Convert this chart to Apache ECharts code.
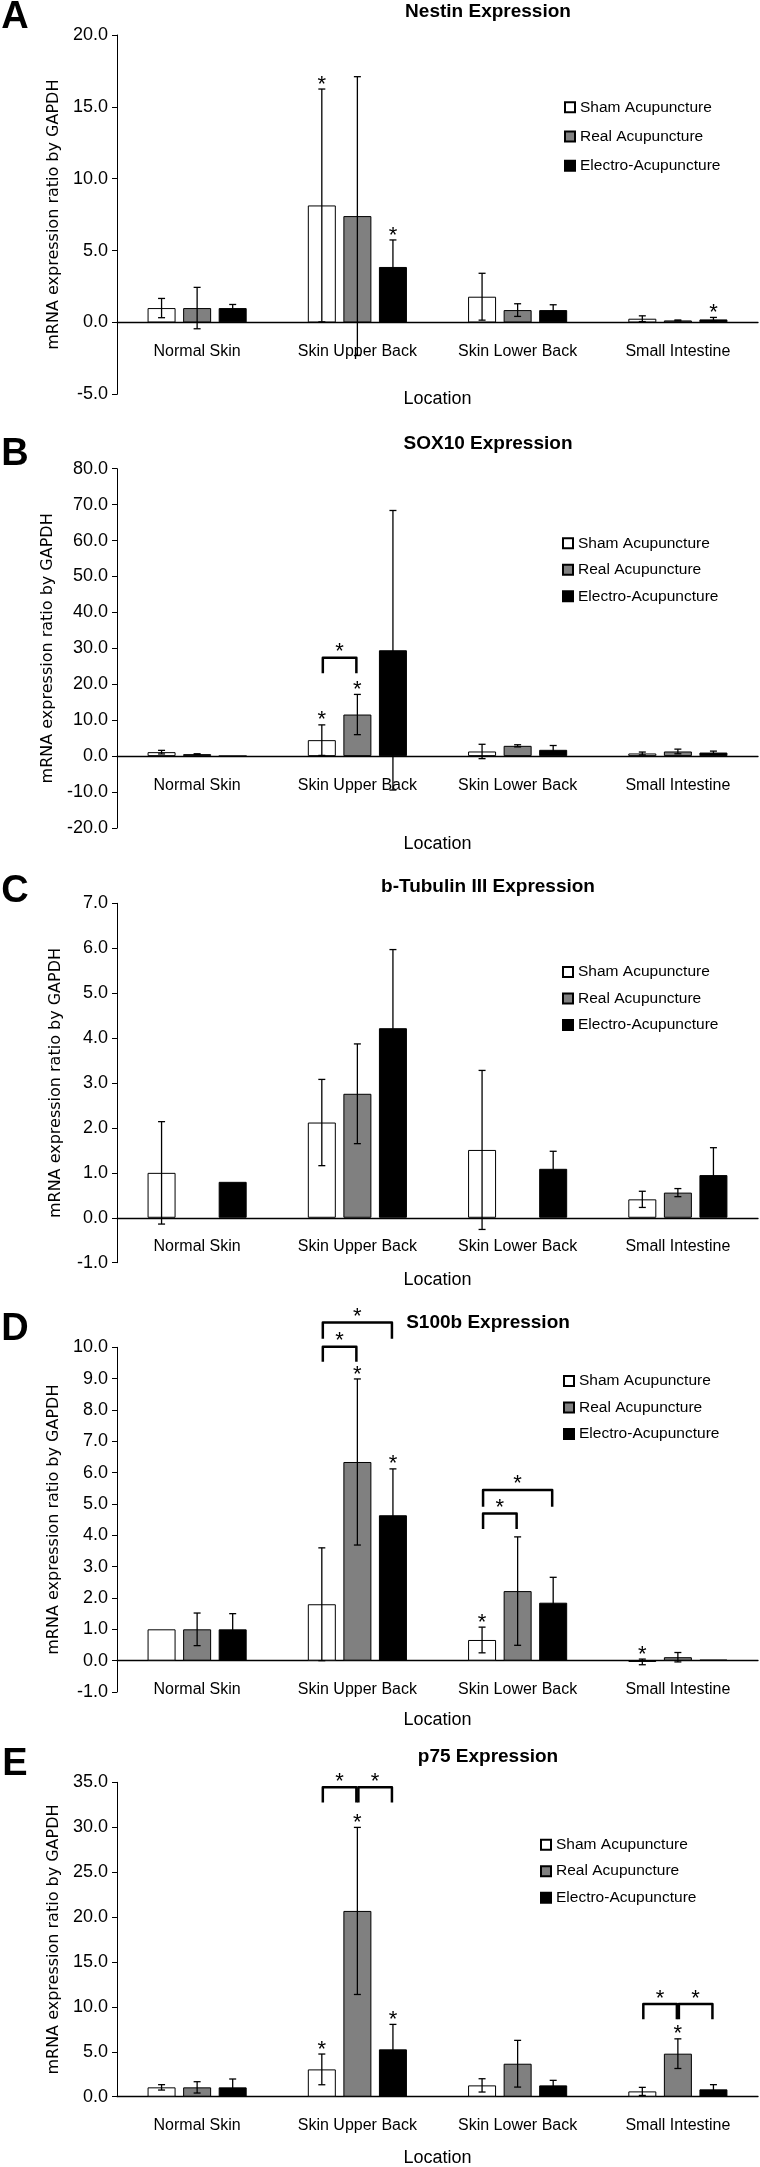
<!DOCTYPE html>
<html>
<head>
<meta charset="utf-8">
<title>Marker expression by location</title>
<script src="https://cdn.jsdelivr.net/npm/echarts@6/dist/echarts.min.js"></script>
<style>
  html, body { margin: 0; padding: 0; background: #fff; }
  #chart { width: 760px; height: 2167px; }
</style>
</head>
<body>
<div id="chart"></div>
<script>
const categories = ['Normal Skin', 'Skin Upper Back', 'Skin Lower Back', 'Small Intestine'];
const groupNames = ['Sham Acupuncture', 'Real Acupuncture', 'Electro-Acupuncture'];
const groupColors = ['#ffffff', '#808080', '#000000'];

// A - Nestin  (rows: sham, real, electro; columns: categories)
const nestinTicks = [-5, 20, 5];
const nestinMeans = [[1.0, 8.14, 1.79, 0.26], [1.0, 7.4, 0.86, 0.14], [1.0, 3.86, 0.86, 0.21]];
const nestinErrs = [[0.67, 8.1, 1.63, 0.2], [1.44, 9.7, 0.44, 0.03], [0.25, 1.88, 0.37, 0.14]];
const nestinStars = [[1, 0], [1, 2], [3, 2]];
const nestinBrackets = [];

// B - SOX10
const sox10Ticks = [-20, 80, 10];
const sox10Means = [[1.11, 4.45, 1.3, 0.74], [0.56, 11.58, 2.87, 1.3], [0.05, 29.47, 1.76, 1.0]];
const sox10Errs = [[0.5, 4.25, 2.0, 0.4], [0.1, 5.6, 0.3, 0.65], [null, 38.9, 1.2, 0.4]];
const sox10Stars = [[1, 0], [1, 1]];
const sox10Brackets = [[1, 0, 1, 27.4, 23.1]];

// C - b-Tubulin III
const tubulinTicks = [-1, 7, 1];
const tubulinMeans = [[1.0, 2.12, 1.51, 0.41], [null, 2.76, null, 0.56], [0.8, 4.22, 1.09, 0.95]];
const tubulinErrs = [[1.14, 0.96, 1.77, 0.18], [null, 1.11, null, 0.09], [null, 1.75, 0.39, 0.61]];
const tubulinStars = [];
const tubulinBrackets = [];

// D - S100b
const s100bTicks = [-1, 10, 1];
const s100bMeans = [[1.0, 1.8, 0.66, -0.04], [1.0, 6.34, 2.22, 0.11], [1.0, 4.64, 1.85, 0.03]];
const s100bErrs = [[null, 1.8, 0.41, 0.09], [0.52, 2.65, 1.73, 0.15], [0.5, 1.48, 0.81, null]];
const s100bStars = [[1, 1], [1, 2], [2, 0], [3, 0]];
const s100bBrackets = [[1, 0, 1, 10.02, 9.54], [1, 0, 2, 10.79, 10.27], [2, 0, 1, 4.7, 4.2], [2, 0, 2, 5.45, 4.91]];

// E - p75
const p75Ticks = [0, 35, 5];
const p75Means = [[1.04, 3.04, 1.26, 0.59], [1.04, 20.68, 3.67, 4.79], [1.04, 5.27, 1.26, 0.82]];
const p75Errs = [[0.3, 1.71, 0.74, 0.45], [0.63, 9.3, 2.6, 1.65], [0.93, 2.78, 0.56, 0.52]];
const p75Stars = [[1, 0], [1, 1], [1, 2], [3, 1]];
const p75Brackets = [[1, 0, 1, 34.45, 32.74], [1, 1, 2, 34.45, 32.74], [3, 0, 1, 10.32, 8.61], [3, 1, 2, 10.32, 8.61]];

const panels = [
  { letter: 'A', title: 'Nestin Expression', ticks: nestinTicks, means: nestinMeans, errs: nestinErrs, stars: nestinStars, brackets: nestinBrackets,
    top: 35, bottom: 394.3, locY: 399.3, legendLeft: 564, legendTop: 99.3, legendGap: 13.2, titleY: 12, letterY: 18 },
  { letter: 'B', title: 'SOX10 Expression', ticks: sox10Ticks, means: sox10Means, errs: sox10Errs, stars: sox10Stars, brackets: sox10Brackets,
    top: 468.7, bottom: 828, locY: 844, legendLeft: 562, legendTop: 535.3, legendGap: 10.5, titleY: 444, letterY: 455 },
  { letter: 'C', title: 'b-Tubulin III Expression', ticks: tubulinTicks, means: tubulinMeans, errs: tubulinErrs, stars: tubulinStars, brackets: tubulinBrackets,
    top: 903.3, bottom: 1262.7, locY: 1280, legendLeft: 562, legendTop: 964, legendGap: 10.5, titleY: 887, letterY: 891.5 },
  { letter: 'D', title: 'S100b Expression', ticks: s100bTicks, means: s100bMeans, errs: s100bErrs, stars: s100bStars, brackets: s100bBrackets,
    top: 1347.3, bottom: 1692, locY: 1720, legendLeft: 563, legendTop: 1373, legendGap: 10.5, titleY: 1323, letterY: 1330 },
  { letter: 'E', title: 'p75 Expression', ticks: p75Ticks, means: p75Means, errs: p75Errs, stars: p75Stars, brackets: p75Brackets,
    top: 1782.3, bottom: 2096.7, locY: 2158.3, legendLeft: 540, legendTop: 1836.7, legendGap: 10.5, titleY: 1757, letterY: 1765 }
];

const FONT = '"Liberation Sans", Arial, sans-serif';
const BAR_W = 28;
const BAR_GAP = 0.27;
const STEP = BAR_W * (1 + BAR_GAP); // distance between bar centres in a group
const INK = '#000';

function renderErr(params, api) {
  const c = api.value(0), g = api.value(1);
  const hi = api.coord([c, api.value(3)]);
  const lo = api.coord([c, api.value(2)]);
  const x = hi[0] + (g - 1) * STEP;
  const st = { stroke: INK, lineWidth: 1.3 };
  return {
    type: 'group',
    children: [
      { type: 'line', shape: { x1: x, y1: hi[1], x2: x, y2: lo[1] }, style: st },
      { type: 'line', shape: { x1: x - 3.5, y1: hi[1], x2: x + 3.5, y2: hi[1] }, style: st },
      { type: 'line', shape: { x1: x - 3.5, y1: lo[1], x2: x + 3.5, y2: lo[1] }, style: st }
    ]
  };
}

function starText(x, y) {
  return {
    type: 'text', x: x, y: y,
    style: { text: '*', fill: INK, font: '22px ' + FONT, align: 'center', verticalAlign: 'middle' }
  };
}

function renderStar(params, api) {
  const p = api.coord([api.value(0), api.value(2)]);
  const x = p[0] + (api.value(1) - 1) * STEP;
  return starText(x, p[1] - 4.5);
}

function renderBracket(params, api) {
  const c = api.value(0);
  const line = api.coord([c, api.value(3)]);
  const leg = api.coord([c, api.value(4)]);
  const x1 = line[0] + (api.value(1) - 1) * STEP + 1;
  const x2 = line[0] + (api.value(2) - 1) * STEP - 1;
  return {
    type: 'group',
    children: [
      { type: 'polyline', shape: { points: [[x1, leg[1]], [x1, line[1]], [x2, line[1]], [x2, leg[1]]] },
        style: { stroke: INK, lineWidth: 2.5, fill: null, lineJoin: 'round' } },
      starText((x1 + x2) / 2, line[1] - 5.5)
    ]
  };
}

const option = { animation: false, grid: [], xAxis: [], yAxis: [], legend: [], series: [], graphic: [] };

panels.forEach((p, i) => {
  const h = p.bottom - p.top;
  option.grid.push({ left: 117, right: 2, top: p.top, height: h });

  // put the whole category axis (line + labels) on the zero line
  const zeroLift = (0 - p.ticks[0]) / (p.ticks[1] - p.ticks[0]) * h;
  option.xAxis.push({
    gridIndex: i, type: 'category', data: categories, offset: -zeroLift,
    axisLine: { onZero: false, lineStyle: { color: INK, width: 1.3 } },
    axisTick: { show: false },
    axisLabel: { interval: 0, margin: 21, fontFamily: FONT, fontSize: 16, color: INK }
  });

  option.yAxis.push({
    gridIndex: i, type: 'value', min: p.ticks[0], max: p.ticks[1], interval: p.ticks[2],
    name: 'mRNA expression ratio by GAPDH', nameLocation: 'middle', nameGap: 53, nameRotate: 90,
    nameTextStyle: { fontFamily: '"DejaVu Sans", Verdana, sans-serif', fontSize: 16, color: INK },
    axisLine: { show: true, onZero: false, lineStyle: { color: INK, width: 1 } },
    axisTick: { show: true, length: 5, lineStyle: { color: INK } },
    axisLabel: { margin: 9, fontFamily: FONT, fontSize: 18, color: INK, formatter: v => v.toFixed(1) },
    splitLine: { show: false }
  });

  option.legend.push({
    orient: 'vertical', left: p.legendLeft, top: p.legendTop, padding: 0,
    itemWidth: 10, itemHeight: 10, itemGap: p.legendGap, icon: 'rect',
    selectedMode: false, data: groupNames,
    textStyle: { fontFamily: FONT, fontSize: 15.5, color: INK, lineHeight: 16 }
  });

  groupNames.forEach((name, g) => {
    option.series.push({
      type: 'bar', name: name, xAxisIndex: i, yAxisIndex: i,
      data: p.means[g], barWidth: BAR_W, barGap: (BAR_GAP * 100) + '%',
      itemStyle: { color: groupColors[g], borderColor: INK, borderWidth: 1 },
      silent: true
    });
  });

  const errData = [];
  p.means.forEach((row, g) => row.forEach((m, c) => {
    const e = p.errs[g][c];
    if (m != null && e != null) errData.push([c, g, m - e, m + e]);
  }));
  option.series.push({
    type: 'custom', xAxisIndex: i, yAxisIndex: i, data: errData, renderItem: renderErr,
    encode: { x: 0, y: [2, 3] }, clip: false, silent: true, z: 5
  });

  const starData = p.stars.map(([c, g]) => [c, g, p.means[g][c] + (p.errs[g][c] || 0)]);
  if (starData.length) {
    option.series.push({
      type: 'custom', xAxisIndex: i, yAxisIndex: i, data: starData, renderItem: renderStar,
      encode: { x: 0, y: 2 }, clip: false, silent: true, z: 6
    });
  }
  if (p.brackets.length) {
    option.series.push({
      type: 'custom', xAxisIndex: i, yAxisIndex: i, data: p.brackets, renderItem: renderBracket,
      encode: { x: 0, y: [3, 4] }, clip: false, silent: true, z: 6
    });
  }

  // panel letter, title and x axis title
  option.graphic.push({
    type: 'text', x: 488, y: p.titleY,
    style: { text: p.title, fill: INK, font: 'bold 19px ' + FONT, align: 'center', verticalAlign: 'middle' }
  });
  option.graphic.push({
    type: 'text', x: 15, y: p.letterY,
    style: { text: p.letter, fill: INK, font: 'bold 38px ' + FONT, align: 'center', verticalAlign: 'middle' }
  });
  option.graphic.push({
    type: 'text', x: 437.5, y: p.locY,
    style: { text: 'Location', fill: INK, font: '18px ' + FONT, align: 'center', verticalAlign: 'middle' }
  });
});

const chart = echarts.init(document.getElementById('chart'), null, { renderer: 'canvas' });
chart.setOption(option);
</script>
</body>
</html>
